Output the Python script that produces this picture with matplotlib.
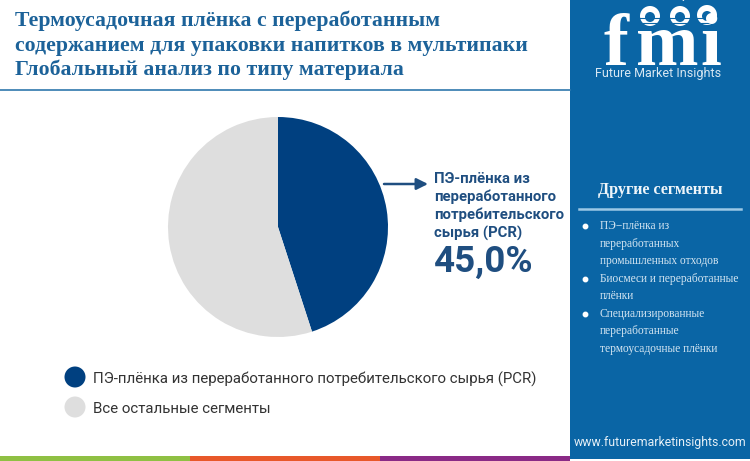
import matplotlib
matplotlib.use("Agg")
import matplotlib.pyplot as plt
from matplotlib.patches import Rectangle, Circle, Arc

# data
title_lines = [
    "Термоусадочная плёнка с переработанным",
    "содержанием для упаковки напитков в мультипаки",
    "Глобальный анализ по типу материала",
]
segments = ["ПЭ-плёнка из переработанного потребительского сырья (PCR)", "Все остальные сегменты"]
shares = [45.0, 55.0]
callout_lines = ["ПЭ-плёнка из", "переработанного", "потребительского", "сырья (PCR)"]
callout_value = "45,0%"
side_title = "Другие сегменты"
side_items = [
    ["ПЭ−плёнка из", "переработанных", "промышленных отходов"],
    ["Биосмеси и переработанные", "плёнки"],
    ["Специализированные", "переработанные", "термоусадочные плёнки"],
]

BLUE = "#004080"
GREY = "#dedede"
PANEL = "#0a65a5"
W, H = 750, 461

fig = plt.figure(figsize=(7.5, 4.61), dpi=100, facecolor="white")
bg = fig.add_axes([0, 0, 1, 1])
bg.set_xlim(0, W)
bg.set_ylim(H, 0)
bg.axis("off")

# title
for i, line in enumerate(title_lines):
    bg.text(15, 21 + i * 24.5, line, family="Liberation Serif", weight="bold",
            fontsize=15.65, color="#1c6299", va="center")
bg.plot([0, 570], [90, 90], color="#2f78ad", lw=1.2)

# side panel
bg.add_patch(Rectangle((570, 0), 180, 459, color=PANEL, lw=0))
bg.plot([579, 741], [208.5, 208.5], color="#9cc8e6", lw=1.8)
bg.text(660, 190, side_title, family="Liberation Serif", weight="bold", fontsize=11.6,
        color="#eef5fa", ha="center", va="center")
y = 226
for item in side_items:
    bg.plot([585], [y], "o", color="white", ms=3.2)
    for line in item:
        bg.text(600, y, line, family="Liberation Serif", fontsize=8.3,
                color="#d5e6f2", va="center")
        y += 17.5
bg.text(660, 442, "www.futuremarketinsights.com", family="Roboto", fontsize=8.8,
        color="#e6f0f7", ha="center", va="center")

# logo
for letter, lx in [("f", 616), ("m", 667), ("i", 711)]:
    bg.text(lx, 65, letter, family="Liberation Serif", weight="bold", fontsize=54,
            color="white", ha="center", va="baseline")
for sy in range(18, 66, 5):
    bg.plot([590, 730], [sy, sy], color=PANEL, lw=0.8)
bg.add_patch(Rectangle((695, 0), 30, 28, color=PANEL, lw=0))
for cx, cy in [(650, 16), (680, 16), (707, 15)]:
    bg.add_patch(Circle((cx, cy), 10, color="white", lw=0))
    bg.add_patch(Circle((cx, cy + 1), 5, color=PANEL, lw=0))
bg.add_patch(Arc((703, 10), 46, 38, theta1=25, theta2=150, angle=180, color="white", lw=1))
bg.text(658.5, 74, "Future Market Insights", family="Roboto", fontsize=9,
        color="#d9e8f3", ha="center", va="center")

# bottom stripes
for x0, x1, c in [(0, 190, "#8fc043"), (190, 380, "#e8582a"), (380, 570, "#8a2a86")]:
    bg.add_patch(Rectangle((x0, 456), x1 - x0, 5, color=c, lw=0))

# pie
r = 110
cx, cy = 278, 227
pie_ax = fig.add_axes([(cx - r) / W, 1 - (cy + r) / H, 2 * r / W, 2 * r / H])
pie_ax.pie(shares, colors=[BLUE, GREY], startangle=90, counterclock=False, radius=1,
           wedgeprops={"linewidth": 0})
pie_ax.set_xlim(-1, 1)
pie_ax.set_ylim(-1, 1)

# callout
bg.annotate("", xy=(428, 184), xytext=(384, 184),
            arrowprops=dict(arrowstyle="-|>", color="#1f4e80", lw=1.8, mutation_scale=17,
                            shrinkA=0, shrinkB=0))
for i, line in enumerate(callout_lines):
    bg.text(434, 178.5 + i * 18.3, line, family="Roboto", weight="bold", fontsize=10.7,
            color="#1f4e80", va="center")
bg.text(434, 262, callout_value, family="Roboto", weight="bold", fontsize=26.5,
        color="#1f4e80", va="center")

# legend
for ly, c, label in zip([377, 407], [BLUE, GREY], segments):
    bg.add_patch(Circle((75, ly), 10.5, color=c, lw=0))
    bg.text(93, ly + 2, label, family="Roboto", fontsize=10.8, color="#333333", va="center")

fig.savefig("out.png", dpi=100)
